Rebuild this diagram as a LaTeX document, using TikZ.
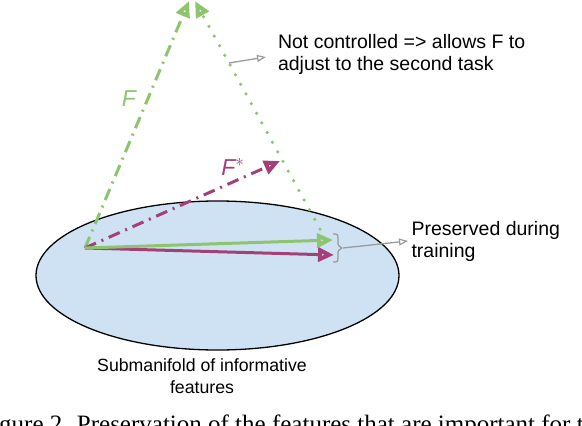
\documentclass[tikz,border=0pt]{standalone}
\usepackage{fontspec}
\setmainfont{Liberation Sans}
\newfontfamily\capfont{Liberation Serif}
\usetikzlibrary{arrows.meta,shapes.geometric}

\definecolor{featgreen}{RGB}{140,197,110}
\definecolor{featpurple}{RGB}{163,64,120}
\definecolor{manifoldblue}{RGB}{207,226,243}
\definecolor{notegray}{RGB}{155,155,155}

\begin{document}
\begin{tikzpicture}[
    x=1pt,
    y=-1pt,
    font=\fontsize{19.5}{22}\selectfont,
    vechead/.style={-{Triangle[open, length=16pt, width=14pt, line width=5pt]}},
    vecline/.style={line width=3pt, vechead},
    dashdotline/.style={line width=3pt, dash pattern=on 12pt off 6pt on 2pt off 6pt},
    dotline/.style={line width=3.5pt, line cap=round, dash pattern=on 0pt off 11pt},
    note/.style={draw=notegray, line width=1.3pt,
        -{Triangle[open, length=9pt, width=7pt, line width=1.2pt]}},
    veclabel/.style={font=\fontsize{23}{23}\selectfont\itshape}
]

% canvas
\useasboundingbox (0,0) rectangle (582,426);

% ---------------- submanifold ----------------
\node[ellipse, draw, line width=1.3pt, fill=manifoldblue,
      minimum width=363pt, minimum height=149pt, inner sep=0pt]
      (manifold) at (217.5,275.5) {};
\node[align=center, font=\fontsize{17.7}{22}\selectfont] (manifoldlab) at (202,376)
      {Submanifold of informative\\features};

% key points
\coordinate (o)      at (85,248);   % common origin
\coordinate (gtip)   at (333,240);  % F restricted to the submanifold
\coordinate (ptip)   at (334,255);  % F* restricted to the submanifold
\coordinate (ftop)   at (189,1);    % F
\coordinate (dtop)   at (195,1);    % free component
\coordinate (dstart) at (320,229);
\coordinate (fstar)  at (280,161);  % F*

% ---------------- vectors ----------------
\draw[vecline, dashdotline, featgreen] (o) -- (ftop);
\draw[vecline, dotline, featgreen] (dstart) -- (dtop);
\draw[vecline, dashdotline, featpurple] (o) -- (fstar);
\draw[vecline, featpurple] (o) -- (ptip);
\draw[vecline, featgreen] (o) -- (gtip);

\node[veclabel, text=featgreen] (flab) at (129,99) {F};
\node[veclabel, text=featpurple] (fstarlab) at (233,167) {F$^{*}$};

% ---------------- annotations ----------------
\coordinate (freept)  at (229,63);
\coordinate (freeend) at (266,57);
\node[anchor=west, align=left] (freelab) at (274.5,54)
      {Not controlled => allows F to\\adjust to the second task};
\draw[note] (freept) -- (freeend);

% bracket round the two kept vectors
\draw[notegray, line width=1.3pt, rounded corners=2.5pt]
      (333,234) -- (338,234) -- (338,246) -- (343,248)
      coordinate (bracetip) -- (338,250) -- (338,262) -- (333,262);
\node[anchor=west, align=left] (keptlab) at (408,241)
      {Preserved during\\training};
\draw[note] (bracetip) -- (keptlab.west);

% caption (cut by the page edge)
\node[anchor=base west, inner sep=0pt, font=\capfont\fontsize{25}{25}\selectfont]
      (caption) at (-1,432)
      {gure 2. Preservation of the features that are important for t};

\end{tikzpicture}
\end{document}
